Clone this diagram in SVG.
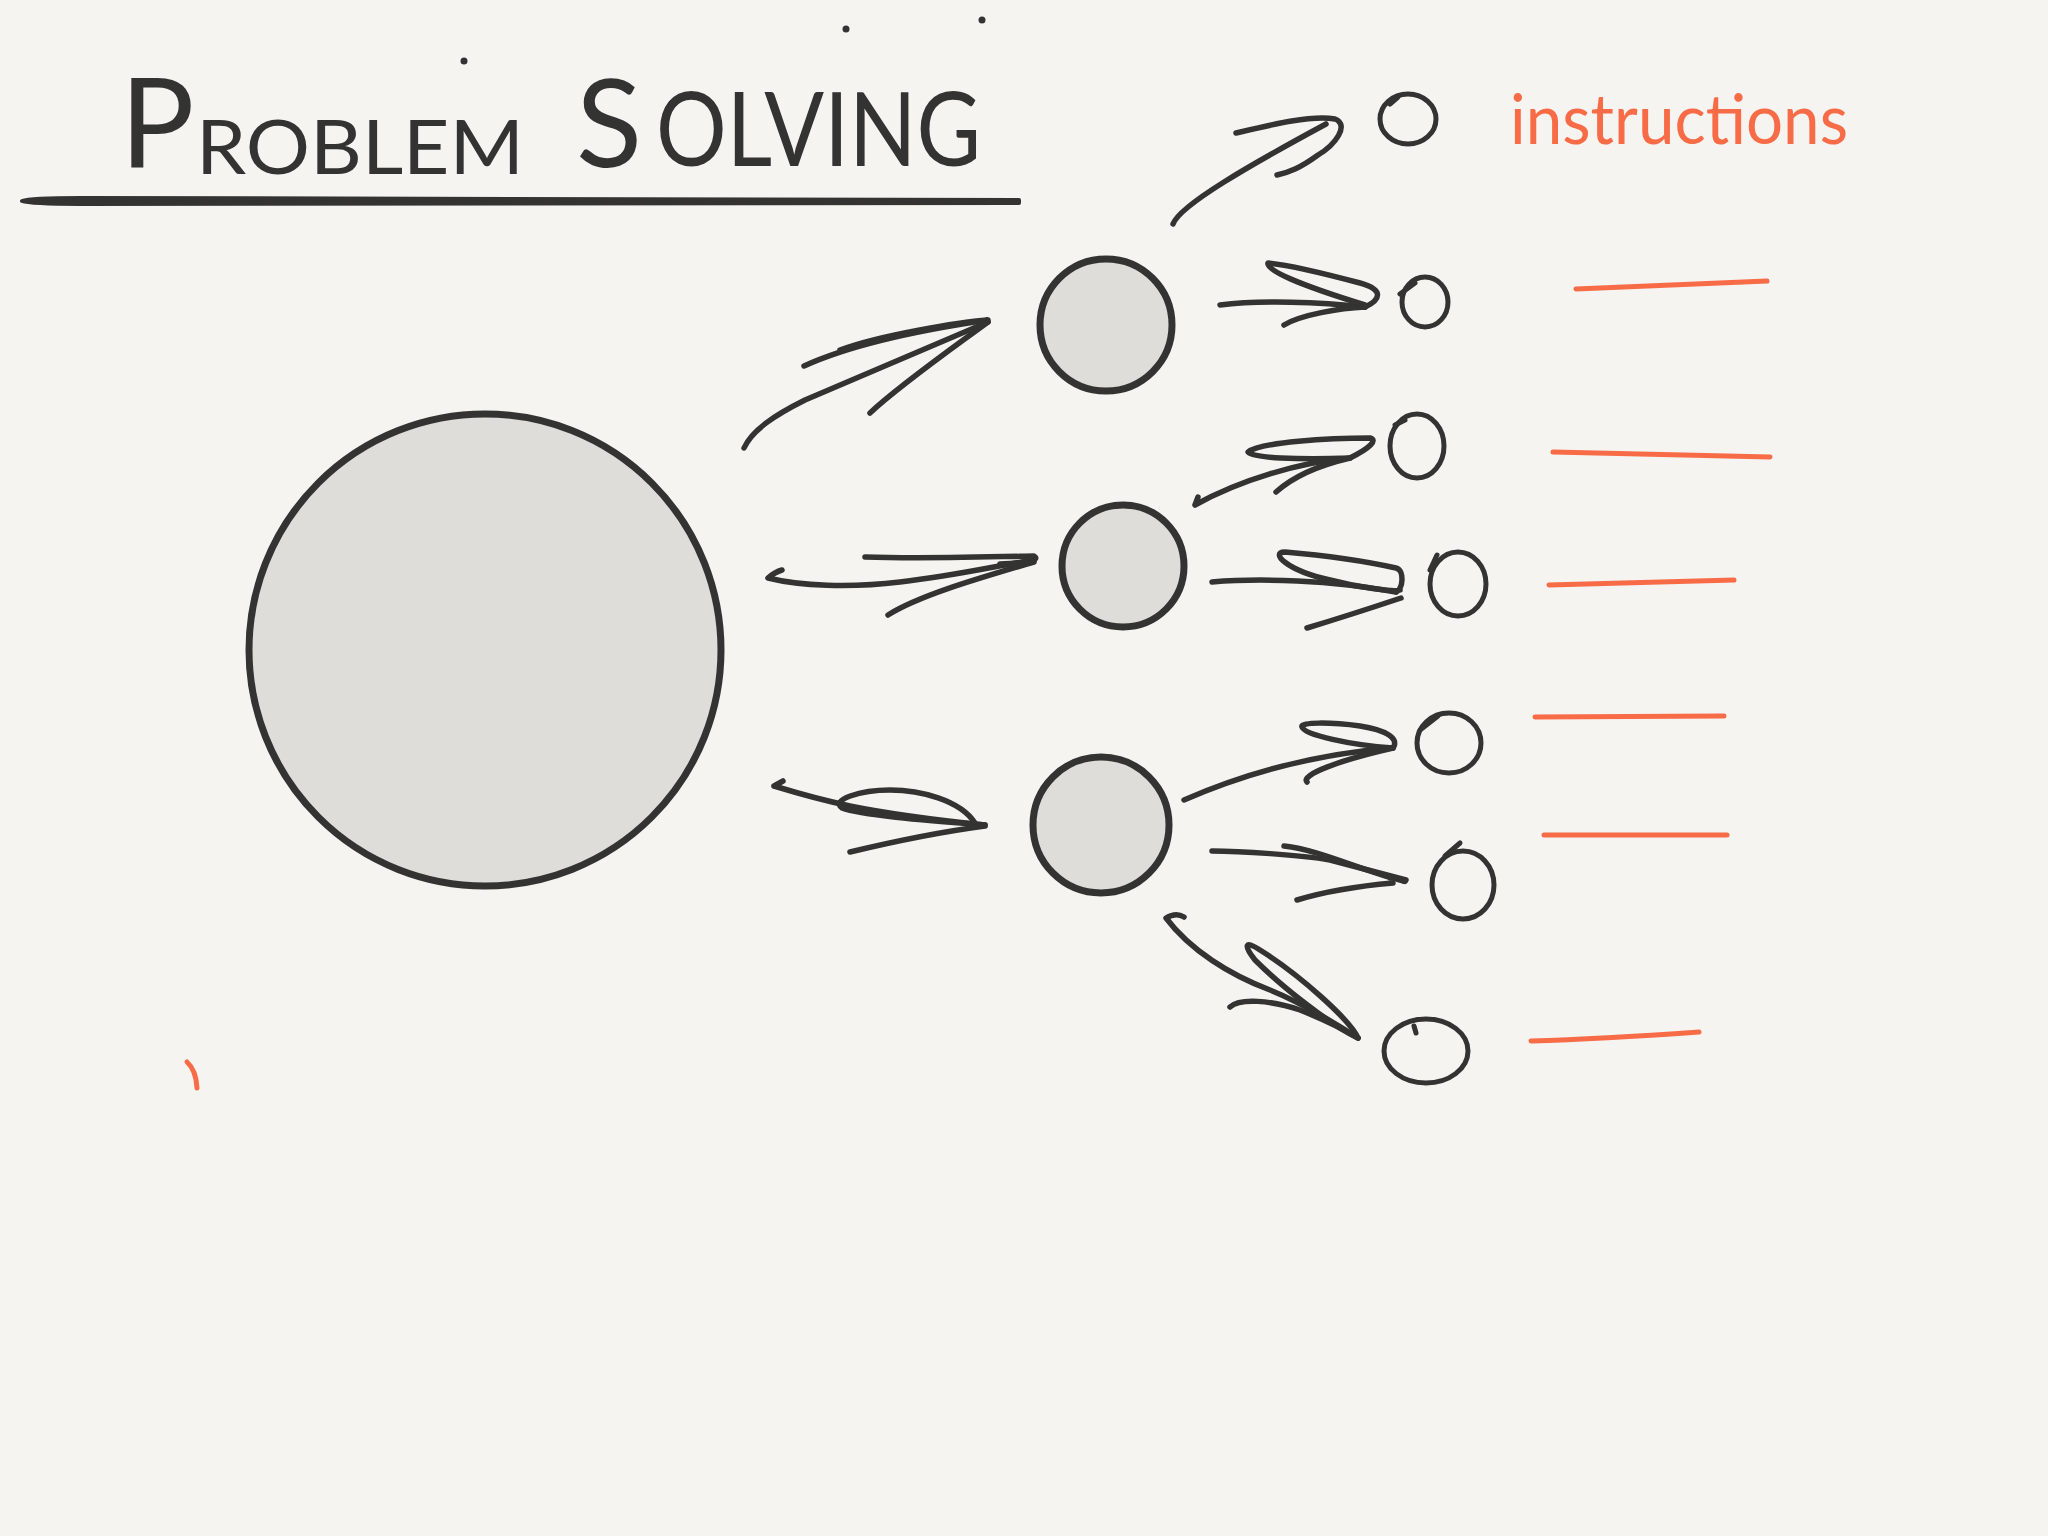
<svg xmlns="http://www.w3.org/2000/svg" width="2048" height="1536" viewBox="0 0 2048 1536">
<style>
.ink{fill:none;stroke:#333331;stroke-width:5.5;stroke-linecap:round;stroke-linejoin:round}
.node{fill:#DEDDD9;stroke:#333331;stroke-width:7}
.o{fill:none;stroke:#333331;stroke-width:5;stroke-linecap:round}
.or{fill:none;stroke:#F86B47;stroke-width:5;stroke-linecap:round}
.title{font-family:"Lato","Liberation Sans",sans-serif;fill:#333331;font-weight:400}
.lbl{font-family:"Lato","Liberation Sans",sans-serif;fill:#F86B47;font-weight:400}
</style>
<rect width="2048" height="1536" fill="#F5F4F0"/>

<g id="title">
<text class="title" x="120" y="167" font-size="124">P</text>
<text class="title" x="196" y="174" font-size="76" textLength="328" lengthAdjust="spacingAndGlyphs">ROBLEM</text>
<text class="title" x="576" y="167" font-size="122">S</text>
<text class="title" x="656" y="166" font-size="102" textLength="325" lengthAdjust="spacingAndGlyphs">OLVING</text>
<path d="M22,201 Q30,204 80,204 L1019,203 L1019,200 L80,198 Q30,198 22,201 Z" fill="#333331" stroke="#333331" stroke-width="4" stroke-linejoin="round"/>
<circle cx="464" cy="61" r="3.5" fill="#333331"/>
<circle cx="846" cy="29" r="3.5" fill="#333331"/>
<circle cx="982" cy="20" r="3.5" fill="#333331"/>
</g>

<g id="problem">
<circle class="node" cx="485" cy="650" r="236" stroke-width="10"/>
</g>
<g id="step1"><circle class="node" cx="1106" cy="325" r="66"/></g>
<g id="step2"><circle class="node" cx="1123" cy="566" r="61"/></g>
<g id="step3"><circle class="node" cx="1101" cy="825" r="68"/></g>

<g id="outcomes">
<g id="o0"><ellipse class="o" cx="1408" cy="119" rx="28" ry="25"/><path class="o" d="M1390,104 L1398,97"/></g>
<g id="o1"><ellipse class="o" cx="1425" cy="302" rx="23" ry="25"/><path class="o" d="M1400,294 L1415,283"/></g>
<g id="o2"><ellipse class="o" cx="1417" cy="446" rx="27" ry="32"/><path class="o" d="M1395,425 L1405,420"/></g>
<g id="o3"><ellipse class="o" cx="1458" cy="584" rx="28" ry="32"/><path class="o" d="M1437,555 L1430,570"/></g>
<g id="o4"><ellipse class="o" cx="1449" cy="743" rx="32" ry="30"/><path class="o" d="M1420,730 L1438,716"/></g>
<g id="o5"><ellipse class="o" cx="1463" cy="885" rx="31" ry="34"/><path class="o" d="M1445,856 L1460,843"/></g>
<g id="o6"><ellipse class="o" cx="1426" cy="1051" rx="42" ry="32"/><path class="o" d="M1414,1026 L1416,1033"/></g>
</g>

<g id="labels">
<text class="lbl" x="1510" y="144" font-size="70" textLength="338" lengthAdjust="spacingAndGlyphs">instructions</text>
<path class="or" d="M1576,289 L1767,281"/>
<path class="or" d="M1553,452 L1770,457"/>
<path class="or" d="M1549,585 L1734,580"/>
<path class="or" d="M1535,717 L1724,716"/>
<path class="or" d="M1544,835 L1727,835"/>
<path class="or" d="M1531,1041 Q1600,1039 1699,1032"/>
<path class="or" d="M187,1062 Q196,1070 197,1088"/>
</g>

<g id="connectors">
<path class="ink" d="M1173,224 C1180,205 1250,165 1326,124"/>
<path class="ink" d="M1236,133 C1270,125 1310,115 1335,119 C1350,125 1335,145 1318,155 C1300,168 1290,172 1277,175"/>
<path class="ink" d="M744,448 C752,430 775,415 805,400 L988,322"/>
<path class="ink" d="M804,366 C850,345 920,330 988,320 C960,322 880,335 840,350"/>
<path class="ink" d="M870,413 C900,385 950,350 988,322"/>
<path class="ink" d="M768,578 Q775,572 782,570 M768,578 C800,586 850,588 900,582 C960,575 1000,565 1034,560"/>
<path class="ink" d="M865,557 C920,559 990,557 1034,556 C1040,560 1030,563 1000,564"/>
<path class="ink" d="M888,615 C920,595 980,578 1034,562"/>
<path class="ink" d="M774,786 L783,781 M774,786 C820,800 860,812 985,825"/>
<path class="ink" d="M975,823 C960,800 920,790 890,790 C860,790 830,800 842,808 C860,815 920,820 985,825"/>
<path class="ink" d="M850,852 C900,840 940,832 985,826"/>
<path class="ink" d="M1220,305 C1260,300 1320,302 1365,307"/>
<path class="ink" d="M1365,307 C1380,300 1385,290 1360,283 C1330,275 1290,265 1268,263 C1265,270 1300,285 1365,305"/>
<path class="ink" d="M1284,325 C1300,315 1340,308 1365,307"/>
<path class="ink" d="M1195,505 L1198,497 M1195,505 C1240,480 1300,462 1350,458"/>
<path class="ink" d="M1350,458 C1370,448 1378,440 1370,438 C1330,438 1260,442 1248,452 C1250,458 1300,460 1350,458"/>
<path class="ink" d="M1276,492 C1295,475 1320,465 1350,458"/>
<path class="ink" d="M1212,582 C1260,578 1330,580 1396,592"/>
<path class="ink" d="M1396,592 C1403,590 1405,570 1396,568 C1360,560 1320,555 1285,552 C1270,552 1285,570 1330,580 C1360,588 1395,592 1400,590"/>
<path class="ink" d="M1307,628 C1340,618 1380,605 1401,598"/>
<path class="ink" d="M1184,800 C1230,780 1300,755 1393,748"/>
<path class="ink" d="M1393,748 C1400,738 1385,730 1360,726 C1330,722 1300,722 1302,727 C1305,735 1350,745 1393,748"/>
<path class="ink" d="M1307,782 C1300,775 1340,760 1393,748"/>
<path class="ink" d="M1212,851 C1240,851 1300,855 1330,860 L1406,880"/>
<path class="ink" d="M1284,846 C1320,850 1360,870 1400,880 C1410,884 1405,878 1390,878"/>
<path class="ink" d="M1297,900 C1330,890 1370,885 1393,883"/>
<path class="ink" d="M1184,917 Q1176,912 1166,918 C1190,950 1230,975 1270,990 C1300,1002 1330,1020 1358,1038"/>
<path class="ink" d="M1230,1007 C1240,998 1270,1000 1300,1010 C1320,1018 1345,1030 1358,1038"/>
<path class="ink" d="M1358,1038 C1350,1020 1300,975 1260,950 C1245,940 1243,945 1255,960 C1280,985 1330,1025 1358,1038"/>
</g>
</svg>
